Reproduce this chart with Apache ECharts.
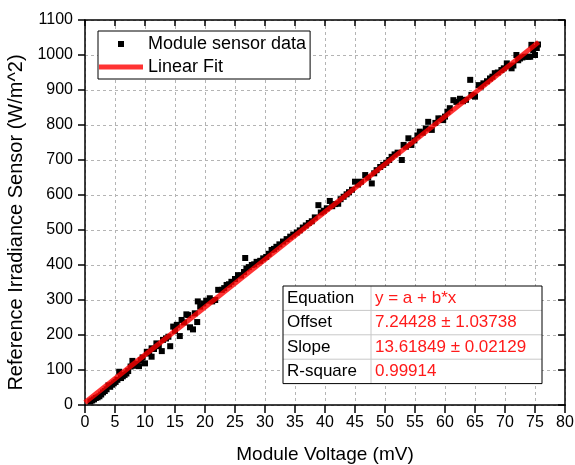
<!DOCTYPE html>
<html lang="en" style="height: 100%">
<head>
<meta charset="utf-8">
<title>Module Voltage vs Reference Irradiance</title>
</head>
<body style="height: 100%; margin: 0">
<div id="container" style="width: 575px; height: 465px"></div>

<script type="text/javascript" src="https://cdn.jsdelivr.net/npm/echarts@6/dist/echarts.min.js"></script>

<script type="text/javascript">
var dom = document.getElementById('container');
var myChart = echarts.init(dom);

var voltage = [
  0.9, 1.2, 1.5, 1.8, 2.1, 2.4, 2.7, 3.0, 3.3, 3.6, 3.9, 4.2, 4.5, 4.8, 5.1, 5.4, 5.7, 6.0, 6.3, 6.6,
  6.9, 7.2, 7.6, 7.9, 8.2, 8.6, 9.0, 9.3, 9.6, 10.0, 10.3, 10.7, 11.1, 11.1, 11.5, 11.9, 12.3, 12.8, 13.0, 13.5,
  13.9, 14.2, 14.7, 15.0, 15.3, 15.8, 16.1, 16.5, 16.9, 17.2, 17.5, 18.0, 18.3, 18.7, 18.8, 19.2, 19.7, 20.2, 20.8, 21.2,
  21.7, 22.2, 22.8, 23.2, 23.6, 24.0, 24.4, 25.0, 25.5, 26.0, 26.5, 26.7, 26.9, 27.3, 27.8, 28.2, 28.6, 29.2, 29.7, 30.2,
  30.6, 31.1, 31.5, 31.9, 32.4, 33.0, 33.6, 34.2, 34.7, 35.3, 35.8, 36.3, 36.8, 37.3, 37.8, 38.3, 38.9, 39.3, 39.8, 40.3,
  40.8, 41.2, 41.7, 42.2, 42.6, 43.1, 43.6, 44.0, 44.5, 45.0, 45.5, 46.0, 46.7, 47.2, 47.8, 48.2, 48.6, 49.2, 49.7, 50.2,
  50.7, 51.1, 51.6, 52.1, 52.8, 53.1, 53.5, 53.9, 54.4, 54.9, 55.4, 55.8, 56.3, 56.8, 57.2, 57.8, 58.4, 58.9, 59.4, 59.7,
  60.0, 60.4, 60.8, 61.4, 61.9, 62.5, 63.0, 63.5, 64.2, 64.4, 64.8, 65.0, 65.6, 66.0, 66.4, 67.0, 67.5, 67.9, 68.3, 68.8,
  69.4, 69.8, 70.3, 70.7, 71.1, 71.4, 71.9, 72.2, 72.5, 72.9, 73.3, 73.9, 74.2, 74.4, 74.7, 75.0, 75.3, 75.5
];
var irradiance = [
  10, 13, 16, 20, 22, 25, 30, 36, 40, 45, 56, 52, 58, 62, 66, 72, 95, 77, 82, 86,
  90, 97, 110, 126, 112, 118, 111, 128, 136, 119, 152, 147, 138, 162, 160, 176, 168, 154, 186, 190,
  195, 168, 224, 212, 229, 197, 243, 236, 259, 257, 222, 216, 262, 237, 296, 281, 290, 298, 305, 296,
  300, 329, 329, 334, 343, 345, 352, 360, 371, 370, 380, 420, 390, 394, 400, 402, 409, 412, 419, 423,
  432, 443, 446, 452, 459, 467, 474, 481, 487, 493, 499, 507, 513, 520, 525, 536, 571, 550, 555, 562,
  583, 568, 574, 575, 588, 595, 602, 608, 615, 638, 630, 638, 657, 650, 633, 662, 671, 680, 686, 692,
  700, 709, 716, 721, 700, 743, 738, 762, 743, 756, 770, 781, 778, 790, 809, 786, 806, 819, 818, 814,
  824, 838, 848, 871, 866, 875, 868, 872, 929, 886, 884, 881, 914, 910, 919, 925, 933, 938, 948, 950,
  957, 962, 976, 968, 962, 970, 1000, 985, 990, 993, 995, 995, 995, 1029, 1014, 1000, 1020, 1030
];

// linear fit end points
var fitX = [0, 75.6];
var fitY = [7.24, 1036.8];

// fit result table
var tableKeys = ['Equation', 'Offset', 'Slope', 'R-square'];
var tableVals = ['y = a + b*x', '7.24428 \u00b1 1.03738', '13.61849 \u00b1 0.02129', '0.99914'];

var xTicks = { min: 0, max: 80, interval: 5 };
var yTicks = { min: 0, max: 1100, interval: 100 };

var font = "'Liberation Sans', Arial, sans-serif";

var scatterData = voltage.map(function (v, i) { return [v, irradiance[i]]; });
var fitData = fitX.map(function (v, i) { return [v, fitY[i]]; });

// table drawn as graphic
var tblLeft = 283, tblTop = 286;
var rowH = 24.4, tblW = 259, colX = 88;
var tblH = rowH * tableKeys.length;
var tableEls = [{
  type: 'rect', z: 100,
  shape: { x: tblLeft, y: tblTop, width: tblW, height: tblH },
  style: { fill: '#fff', stroke: null }
}];
for (var i = 0; i < tableKeys.length; i++) {
  if (i > 0) {
    tableEls.push({
      type: 'line', z: 101,
      shape: { x1: tblLeft, y1: tblTop + i * rowH, x2: tblLeft + tblW, y2: tblTop + i * rowH },
      style: { stroke: '#c8c8c8', lineWidth: 1 }
    });
  }
  tableEls.push({
    type: 'text', z: 102,
    x: tblLeft + 4, y: tblTop + i * rowH + rowH / 2,
    style: { text: tableKeys[i], fill: '#000', font: '17px ' + font, verticalAlign: 'middle', align: 'left' }
  });
  tableEls.push({
    type: 'text', z: 102,
    x: tblLeft + colX + 4, y: tblTop + i * rowH + rowH / 2,
    style: { text: tableVals[i], fill: '#ff1a1a', font: '17px ' + font, verticalAlign: 'middle', align: 'left' }
  });
}
tableEls.push({
  type: 'line', z: 101,
  shape: { x1: tblLeft + colX, y1: tblTop, x2: tblLeft + colX, y2: tblTop + tblH },
  style: { stroke: '#c8c8c8', lineWidth: 1 }
});
tableEls.push({
  type: 'rect', z: 103,
  shape: { x: tblLeft, y: tblTop, width: tblW, height: tblH },
  style: { fill: null, stroke: '#000', lineWidth: 1 }
});

var option = {
  animation: false,
  textStyle: { fontFamily: font },
  grid: { left: 85, right: 10, top: 20, bottom: 60, containLabel: false, outerBoundsMode: 'none' },
  legend: {
    orient: 'vertical',
    left: 98, top: 31,
    padding: [4, 4, 3, 1],
    itemGap: 5,
    itemWidth: 44,
    itemHeight: 6,
    symbolKeepAspect: true,
    borderColor: '#000',
    borderWidth: 1,
    backgroundColor: '#fff',
    textStyle: { fontSize: 18, color: '#000', fontFamily: font },
    data: [
      { name: 'Module sensor data', icon: 'path://M0,0H1V1H0Z' },
      { name: 'Linear Fit', icon: 'path://M0,0H44V5H0Z' }
    ]
  },
  xAxis: [
    {
      type: 'value',
      min: xTicks.min, max: xTicks.max, interval: xTicks.interval,
      name: 'Module Voltage (mV)',
      nameLocation: 'middle',
      nameGap: 40,
      nameTextStyle: { fontSize: 19, color: '#000', fontFamily: font },
      axisLine: { onZero: false, lineStyle: { color: '#000', width: 1.5 } },
      axisTick: { inside: false, length: 8, lineStyle: { color: '#000', width: 1.5 } },
      axisLabel: { fontSize: 16, color: '#000', margin: 10, fontFamily: font },
      splitLine: { show: true, lineStyle: { color: '#b4b4b4', type: [3, 3], width: 1 } }
    },
    {
      type: 'value', position: 'top',
      min: xTicks.min, max: xTicks.max, interval: xTicks.interval,
      axisLine: { onZero: false, lineStyle: { color: '#000', width: 1.5 } },
      axisTick: { inside: true, length: 6, lineStyle: { color: '#000', width: 1.5 } },
      axisLabel: { show: false },
      splitLine: { show: false }
    }
  ],
  yAxis: [
    {
      type: 'value',
      min: yTicks.min, max: yTicks.max, interval: yTicks.interval,
      name: 'Reference Irradiance Sensor (W/m^2)',
      nameLocation: 'middle',
      nameGap: 47,
      nameTextStyle: { fontSize: 20, color: '#000', fontFamily: font, padding: [0, 20, 0, 0] },
      axisLine: { onZero: false, lineStyle: { color: '#000', width: 1.5 } },
      axisTick: { inside: false, length: 7, lineStyle: { color: '#000', width: 1.5 } },
      axisLabel: {
        fontSize: 16, color: '#000', margin: 12, fontFamily: font,
        formatter: function (v) { return String(v); }
      },
      splitLine: { show: true, lineStyle: { color: '#b4b4b4', type: [3, 3], width: 1 } }
    },
    {
      type: 'value', position: 'right',
      min: yTicks.min, max: yTicks.max, interval: yTicks.interval,
      axisLine: { onZero: false, lineStyle: { color: '#000', width: 1.5 } },
      axisTick: { inside: true, length: 7, lineStyle: { color: '#000', width: 1.5 } },
      axisLabel: { show: false },
      splitLine: { show: false }
    }
  ],
  series: [
    {
      name: 'Module sensor data',
      type: 'scatter',
      symbol: 'rect',
      symbolSize: 6,
      itemStyle: { color: '#000', opacity: 1 },
      data: scatterData,
      z: 2
    },
    {
      name: 'Linear Fit',
      type: 'line',
      symbol: 'none',
      lineStyle: { color: 'rgba(255,0,0,0.8)', width: 5, cap: 'butt' },
      itemStyle: { color: 'rgba(255,0,0,0.8)' },
      data: fitData,
      z: 3
    }
  ],
  graphic: { elements: tableEls }
};

myChart.setOption(option);
window.addEventListener('resize', myChart.resize);
</script>
</body>
</html>
